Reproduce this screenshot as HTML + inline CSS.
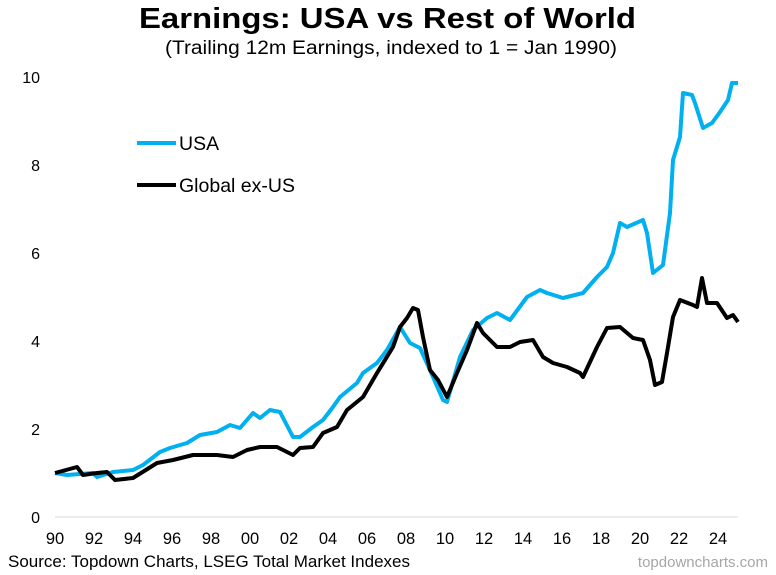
<!DOCTYPE html>
<html><head><style>
body{margin:0;background:#fff;}
svg text{font-family:"Liberation Sans",Arial,sans-serif;}
</style></head><body>
<svg width="776" height="570" viewBox="0 0 776 570" xmlns="http://www.w3.org/2000/svg">
<rect width="776" height="570" fill="#fff"/>
<text x="139" y="28" font-size="29" font-weight="bold" textLength="497" lengthAdjust="spacingAndGlyphs">Earnings: USA vs Rest of World</text>
<text x="165" y="54" font-size="19" textLength="452" lengthAdjust="spacingAndGlyphs">(Trailing 12m Earnings, indexed to 1 = Jan 1990)</text>
<g font-size="16" text-anchor="end" fill="#000">
<text x="40" y="523">0</text><text x="40" y="435">2</text><text x="40" y="347">4</text>
<text x="40" y="259">6</text><text x="40" y="171">8</text><text x="40" y="83">10</text>
</g>
<line x1="55" y1="517" x2="738" y2="517" stroke="#d9d9d9" stroke-width="1"/>
<g font-size="16.5" text-anchor="middle">
<text x="55" y="544">90</text><text x="94" y="544">92</text><text x="133" y="544">94</text>
<text x="172" y="544">96</text><text x="211" y="544">98</text><text x="250" y="544">00</text>
<text x="289" y="544">02</text><text x="328" y="544">04</text><text x="367" y="544">06</text>
<text x="406" y="544">08</text><text x="445" y="544">10</text><text x="484" y="544">12</text>
<text x="523" y="544">14</text><text x="562" y="544">16</text><text x="601" y="544">18</text>
<text x="640" y="544">20</text><text x="679" y="544">22</text><text x="718" y="544">24</text>
</g>
<polyline fill="none" stroke="#00b0f0" stroke-width="4" stroke-linejoin="round" points="55,473 67,475 93,473 97,477 113,472 133,470 143,465 160,452 170,448 187,443 200,435 217,432 230,425 240,428 253,413 260,418 270,410 280,412 293,437 300,437 313,427 323,420 333,407 340,397 357,383 363,373 377,363 387,350 400,327 410,343 420,348 430,370 443,400 447,402 460,357 473,330 487,318 497,313 510,320 527,297 540,290 547,293 563,298 583,293 597,277 607,267 613,253 620,223 627,227 643,220 647,233 653,273 663,265 670,213 673,160 680,137 683,93 692,95 695,103 703,128 712,123 720,112 728,100 732,83 738,83"/>
<polyline fill="none" stroke="#000" stroke-width="4" stroke-linejoin="round" points="55,473 77,467 83,475 97,473 107,472 115,480 133,478 157,463 173,460 193,455 217,455 233,457 247,450 260,447 277,447 293,455 300,448 313,447 323,433 337,427 347,410 363,397 377,373 393,347 400,327 407,318 413,308 418,310 423,337 430,370 438,380 447,397 457,373 467,350 477,323 483,333 497,347 510,347 520,342 533,340 543,357 553,363 567,367 580,373 583,377 597,347 607,328 620,327 633,338 643,340 650,360 655,385 662,382 667,353 673,317 680,300 693,305 697,307 702,278 707,303 717,303 727,318 733,315 738,322"/>
<line x1="137" y1="143" x2="176" y2="143" stroke="#00b0f0" stroke-width="4"/>
<text x="179" y="150" font-size="19.5">USA</text>
<line x1="137" y1="185" x2="176" y2="185" stroke="#000" stroke-width="4"/>
<text x="179" y="192" font-size="19.5">Global ex-US</text>
<text x="8" y="567" font-size="16.5" textLength="402" lengthAdjust="spacingAndGlyphs">Source: Topdown Charts, LSEG Total Market Indexes</text>
<text x="768" y="567" font-size="15" fill="#a6a6a6" text-anchor="end">topdowncharts.com</text>
</svg>
</body></html>
